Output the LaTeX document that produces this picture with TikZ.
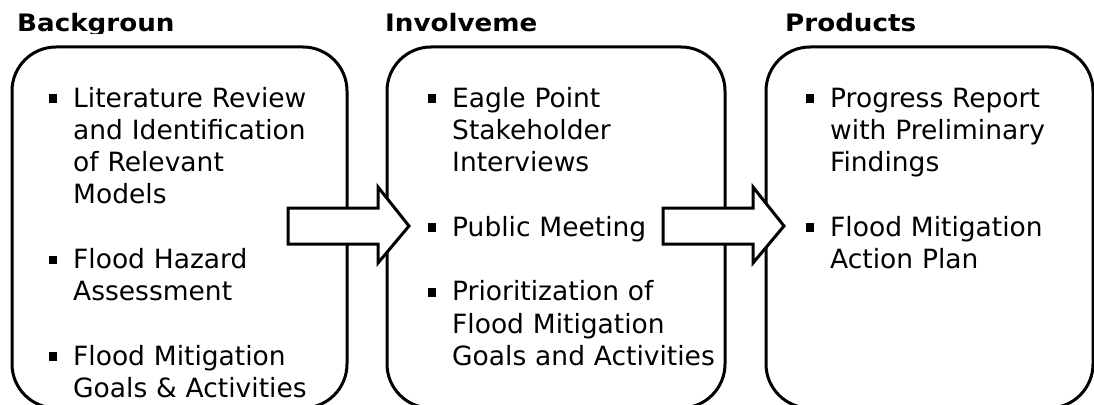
\documentclass[tikz,border=0pt]{standalone}
\usepackage{fontspec}
\setmainfont{DejaVu Sans}
\newfontfamily\titrefont[FakeStretch=1.09]{DejaVu Sans}
\usetikzlibrary{calc}

\newcommand{\puce}{\llap{\rule[4.3pt]{8pt}{8.5pt}\hspace{16pt}}}

\tikzset{
  cadre/.style={draw, line width=3pt, rounded corners=44pt, inner sep=0pt},
  titre/.style={anchor=base west, inner sep=0pt, font=\titrefont\bfseries\fontsize{24}{28}\selectfont},
  item/.style={anchor=base west, inner sep=0pt, text width=300pt, align=left,
    font=\fontsize{26.5}{32.3}\selectfont},
  bloc/.style={draw, fill=white, line width=3pt, line join=miter}
}

\begin{document}
\begin{tikzpicture}[x=1pt,y=-1pt]
    \useasboundingbox (0,0) rectangle (1094,404);
    \clip (0,0) rectangle (1094,404);
    % Titres
    \begin{scope}
      \clip (0,0) rectangle (1094,33.5);
      \node[titre] (tbackground) at (17,32) {Backgroun};
      \node[titre] (tinvolvement) at (385,32) {Involveme};
      \node[titre] (tproducts) at (785,32) {Products};
    \end{scope}
    % Cadres
    \node[cadre, minimum width=335pt, minimum height=361pt] (background) at (179.5,227.5) {};
    \node[cadre, minimum width=338pt, minimum height=361pt] (involvement) at (556,227.5) {};
    \node[cadre, minimum width=327pt, minimum height=361pt] (products) at (929.5,227.5) {};
    % Fleches
    \foreach \x in {288,663}
      \draw[bloc, shift={(\x,0)}] (0,208) -- (90,208) -- (90,187) -- (121,226)
        -- (90,263) -- (90,244) -- (0,244) -- cycle;
    % Colonne 1
    \node[item] (litterature) at (73,107) {\puce Literature Review\\and Identification\\of Relevant\\Models};
    \node[item] (hazard) at (73,268.5) {\puce Flood Hazard\\Assessment};
    \node[item] (goals) at (73,365) {\puce Flood Mitigation\\Goals \& Activities};
    % Colonne 2
    \node[item] (interviews) at (452,107) {\puce Eagle Point\\Stakeholder\\Interviews};
    \node[item] (meeting) at (452,236.2) {\puce Public Meeting};
    \node[item] (prioritization) at (452,300.8) {\puce Prioritization of\\Flood Mitigation\\Goals and Activities};
    % Colonne 3
    \node[item] (report) at (830,107) {\puce Progress Report\\with Preliminary\\Findings};
    \node[item] (plan) at (830,236.2) {\puce Flood Mitigation\\Action Plan};
\end{tikzpicture}
\end{document}
